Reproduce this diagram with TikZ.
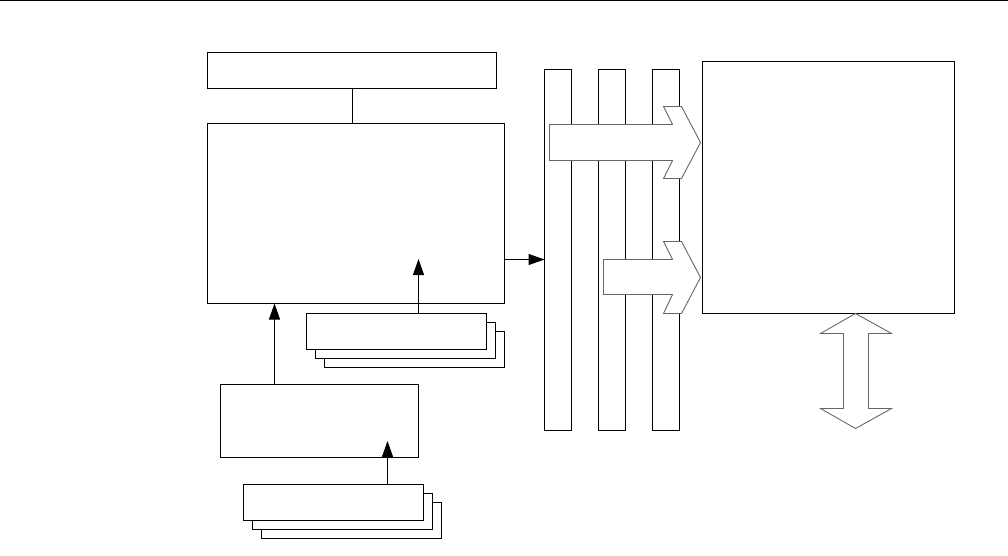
\documentclass[tikz,border=0pt]{standalone}
\usetikzlibrary{arrows.meta,calc}
\begin{document}
\begin{tikzpicture}[x=1pt,y=-1pt,line width=1pt,
  box/.style={draw=black,fill=white,rectangle,inner sep=0pt,outer sep=0pt,anchor=north west},
  arr/.style={-{Triangle[length=16pt,width=11pt]}},
  fat/.style={draw=black!60,fill=white,line width=0.9pt,line join=miter}]
\useasboundingbox (0,0) rectangle (1008,555);
\draw (0,0.5) -- (1008,0.5);
% top boxes
\node[box,minimum width=289pt,minimum height=36pt] (top) at (207.5,52.5) {};
\node[box,minimum width=297pt,minimum height=180pt] (main) at (207.5,123.5) {};
\draw (top.south) -- (top.south |- main.north);
% upper stack
\node[box,minimum width=180pt,minimum height=36pt] (s13) at (324.5,331.5) {};
\node[box,minimum width=180pt,minimum height=36pt] (s12) at (315.5,322.5) {};
\node[box,minimum width=180pt,minimum height=36pt] (s11) at (306.5,313.5) {};
% lower box and stack
\node[box,minimum width=198pt,minimum height=73pt] (low) at (220.5,384.5) {};
\node[box,minimum width=180pt,minimum height=36pt] (s23) at (261.5,502.5) {};
\node[box,minimum width=180pt,minimum height=36pt] (s22) at (252.5,493.5) {};
\node[box,minimum width=180pt,minimum height=36pt] (s21) at (243.5,484.5) {};
% bars
\node[box,minimum width=27pt,minimum height=361pt] (b1) at (544.5,69.5) {};
\node[box,minimum width=27pt,minimum height=361pt] (b2) at (598.5,69.5) {};
\node[box,minimum width=27pt,minimum height=361pt] (b3) at (652.5,69.5) {};
% right box
\node[box,minimum width=252pt,minimum height=252pt] (rb) at (702.5,61.5) {};
% connectors
\coordinate (t1) at (418.5,259);
\coordinate (t2) at (387.5,441);
\draw[arr] (s11.north -| t1) -- (t1);
\draw[arr] (s21.north -| t2) -- (t2);
\draw[arr] (low.north -| 274.5,0) -- (main.south -| 274.5,0);
\draw[arr] (main.east |- 0,259.5) -- (b1.west |- 0,259.5);
% fat arrows
\draw[fat] (549.5,124.5) -- (672.5,124.5) -- (663.5,106.5) -- (681.5,106.5) -- (700.5,142.5)
  -- (681.5,178.5) -- (663.5,178.5) -- (672.5,160.5) -- (549.5,160.5) -- cycle;
\draw[fat] (603.5,259.5) -- (672.5,259.5) -- (663.5,241.5) -- (681.5,241.5) -- (700.5,277.5)
  -- (681.5,313.5) -- (663.5,313.5) -- (672.5,294.5) -- (603.5,294.5) -- cycle;
\draw[fat] (855.5,313.5) -- (891.5,333.5) -- (868.5,333.5) -- (868.5,408.5) -- (891.5,408.5)
  -- (855.5,428.5) -- (820.5,408.5) -- (843.5,408.5) -- (843.5,333.5) -- (820.5,333.5) -- cycle;
\end{tikzpicture}
\end{document}
